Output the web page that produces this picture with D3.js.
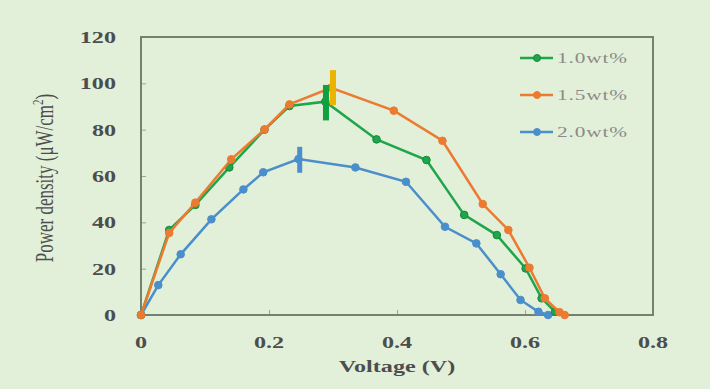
<!DOCTYPE html>
<html>
  <head>
    <meta charset="utf-8">
    <title>Power density</title>
    <script src="https://d3js.org/d3.v7.min.js"></script>
    <style>
      html, body { margin: 0; background: #e2efd9; }
      text { font-family: "Liberation Serif", "DejaVu Serif", serif; }
    </style>
  </head>
  <body>
    <script>
    // data
    var seriesNames = ["1.0wt%", "1.5wt%", "2.0wt%"];
    var seriesColors = ["#1fa64a", "#ec7a30", "#4a8fcb"];
    var errColors = ["#10a040", "#ebb400", "#4a8fcb"];

    var voltGreen = [0, 0.044, 0.085, 0.138, 0.193, 0.232, 0.288, 0.368, 0.446, 0.505, 0.556, 0.601, 0.626, 0.647];
    var powGreen  = [0, 36.7, 47.5, 63.7, 80, 90.2, 92.1, 75.8, 66.9, 43.2, 34.5, 20.1, 7.2, 1.4];
    var voltOrange = [0, 0.044, 0.085, 0.141, 0.193, 0.232, 0.297, 0.395, 0.471, 0.534, 0.574, 0.607, 0.631, 0.654, 0.662];
    var powOrange  = [0, 35.4, 48.5, 67.2, 80.1, 90.9, 98.1, 88.2, 75.2, 47.9, 36.7, 20.4, 7.2, 1.2, 0];
    var voltBlue = [0, 0.027, 0.062, 0.110, 0.160, 0.191, 0.246, 0.335, 0.414, 0.475, 0.524, 0.562, 0.593, 0.621, 0.636];
    var powBlue  = [0, 12.9, 26.2, 41.3, 54.2, 61.6, 67.3, 63.7, 57.5, 38.1, 30.9, 17.6, 6.5, 1.4, 0];

    // error bars at the peaks: [voltage, low, high]
    var errGreen = [0.289, 84, 99.3];
    var errOrange = [0.300, 90.6, 105.7];
    var errBlue = [0.248, 61.4, 72.6];

    var xTicks = [0, 0.2, 0.4, 0.6, 0.8];
    var xTickLabels = ["0", "0.2", "0.4", "0.6", "0.8"];
    var yTicks = [0, 20, 40, 60, 80, 100, 120];

    var series = [
      {name: seriesNames[0], v: voltGreen, p: powGreen, err: errGreen},
      {name: seriesNames[1], v: voltOrange, p: powOrange, err: errOrange},
      {name: seriesNames[2], v: voltBlue, p: powBlue, err: errBlue}
    ];

    var W = 710, H = 389;
    var plotL = 141, plotR = 653, plotT = 37, plotB = 315;
    var stretch = 1.42;  // the source picture is widened horizontally

    var svg = d3.select("body").append("svg")
      .attr("width", W).attr("height", H);

    svg.append("rect").attr("width", W).attr("height", H).attr("fill", "#e2efd9");

    var x = d3.scaleLinear().domain([0, 0.8]).range([plotL, plotR]);
    var y = d3.scaleLinear().domain([0, 120]).range([plotB, plotT]);

    function wideText(g, tx, ty, str, anchor) {
      return g.append("text")
        .attr("transform", "translate(" + tx + "," + ty + ") scale(" + stretch + ",1)")
        .attr("text-anchor", anchor)
        .text(str);
    }

    // inner ticks
    svg.append("g")
      .attr("transform", "translate(" + plotL + ",0)")
      .call(d3.axisRight(y).tickValues(yTicks).tickSize(5).tickFormat(""))
      .call(function(g) { g.select(".domain").remove(); g.selectAll("line").attr("stroke", "#9aa597"); });
    svg.append("g")
      .attr("transform", "translate(0," + plotB + ")")
      .call(d3.axisTop(x).tickValues(xTicks).tickSize(5).tickFormat(""))
      .call(function(g) { g.select(".domain").remove(); g.selectAll("line").attr("stroke", "#9aa597"); });

    // tick labels
    var yLab = svg.append("g").attr("font-size", 17).attr("font-weight", "bold").attr("fill", "#4d4d4d");
    yTicks.forEach(function(t) { wideText(yLab, 116, y(t) + 6, String(t), "end"); });
    var xLab = svg.append("g").attr("font-size", 17).attr("font-weight", "bold").attr("fill", "#4d4d4d");
    xTicks.forEach(function(t, i) { wideText(xLab, x(t), 348, xTickLabels[i], "middle"); });

    // frame
    svg.append("rect")
      .attr("x", plotL).attr("y", plotT)
      .attr("width", plotR - plotL).attr("height", plotB - plotT)
      .attr("fill", "none").attr("stroke", "#75806f").attr("stroke-width", 2);

    // axis titles
    var xt = svg.append("g").attr("font-size", 17).attr("font-weight", "bold").attr("fill", "#4d4d4d");
    wideText(xt, 397, 372, "Voltage (V)", "middle");

    var yl = svg.append("text")
      .attr("transform", "translate(53,178) rotate(-90) scale(1," + stretch + ")")
      .attr("text-anchor", "middle")
      .attr("font-size", 17).attr("fill", "#4d4d4d");
    yl.append("tspan").text("Power density (μW/cm");
    yl.append("tspan").attr("font-size", 11).attr("dy", -7).text("2");
    yl.append("tspan").attr("dy", 7).text(")");

    var line = d3.line().x(function(d) { return x(d[0]); }).y(function(d) { return y(d[1]); });

    // draw order: blue, green, orange
    [2, 0, 1].forEach(function(i) {
      var s = series[i];
      var pts = s.v.map(function(v, j) { return [v, s.p[j]]; });
      svg.append("path").datum(pts)
        .attr("d", line)
        .attr("fill", "none")
        .attr("stroke", seriesColors[i])
        .attr("stroke-width", 2.5);
      svg.append("g").selectAll("circle").data(pts).enter().append("circle")
        .attr("cx", function(d) { return x(d[0]); })
        .attr("cy", function(d) { return y(d[1]); })
        .attr("r", 3.8)
        .attr("fill", seriesColors[i])
        .attr("stroke", i == 0 ? "#158a3a" : seriesColors[i])
        .attr("stroke-width", 1);
    });

    // error bars
    [2, 0, 1].forEach(function(i) {
      var e = series[i].err;
      svg.append("rect")
        .attr("x", x(e[0]) - (i == 2 ? 2.5 : 3))
        .attr("y", y(e[2]))
        .attr("width", i == 2 ? 5 : 6)
        .attr("height", y(e[1]) - y(e[2]))
        .attr("fill", errColors[i]);
    });

    // legend
    var leg = svg.append("g");
    var legText = svg.append("g").attr("font-size", 15).attr("fill", "#8a8a8a");
    series.forEach(function(s, i) {
      var ly = 58 + i * 37;
      leg.append("line")
        .attr("x1", 520).attr("x2", 553).attr("y1", ly).attr("y2", ly)
        .attr("stroke", seriesColors[i]).attr("stroke-width", 2.5);
      leg.append("circle")
        .attr("cx", 537).attr("cy", ly).attr("r", 3.5)
        .attr("fill", seriesColors[i])
        .attr("stroke", i == 0 ? "#158a3a" : seriesColors[i]);
      wideText(legText, 557, ly + 5, s.name, "start").attr("letter-spacing", 0.6);
    });
    </script>
  </body>
</html>
